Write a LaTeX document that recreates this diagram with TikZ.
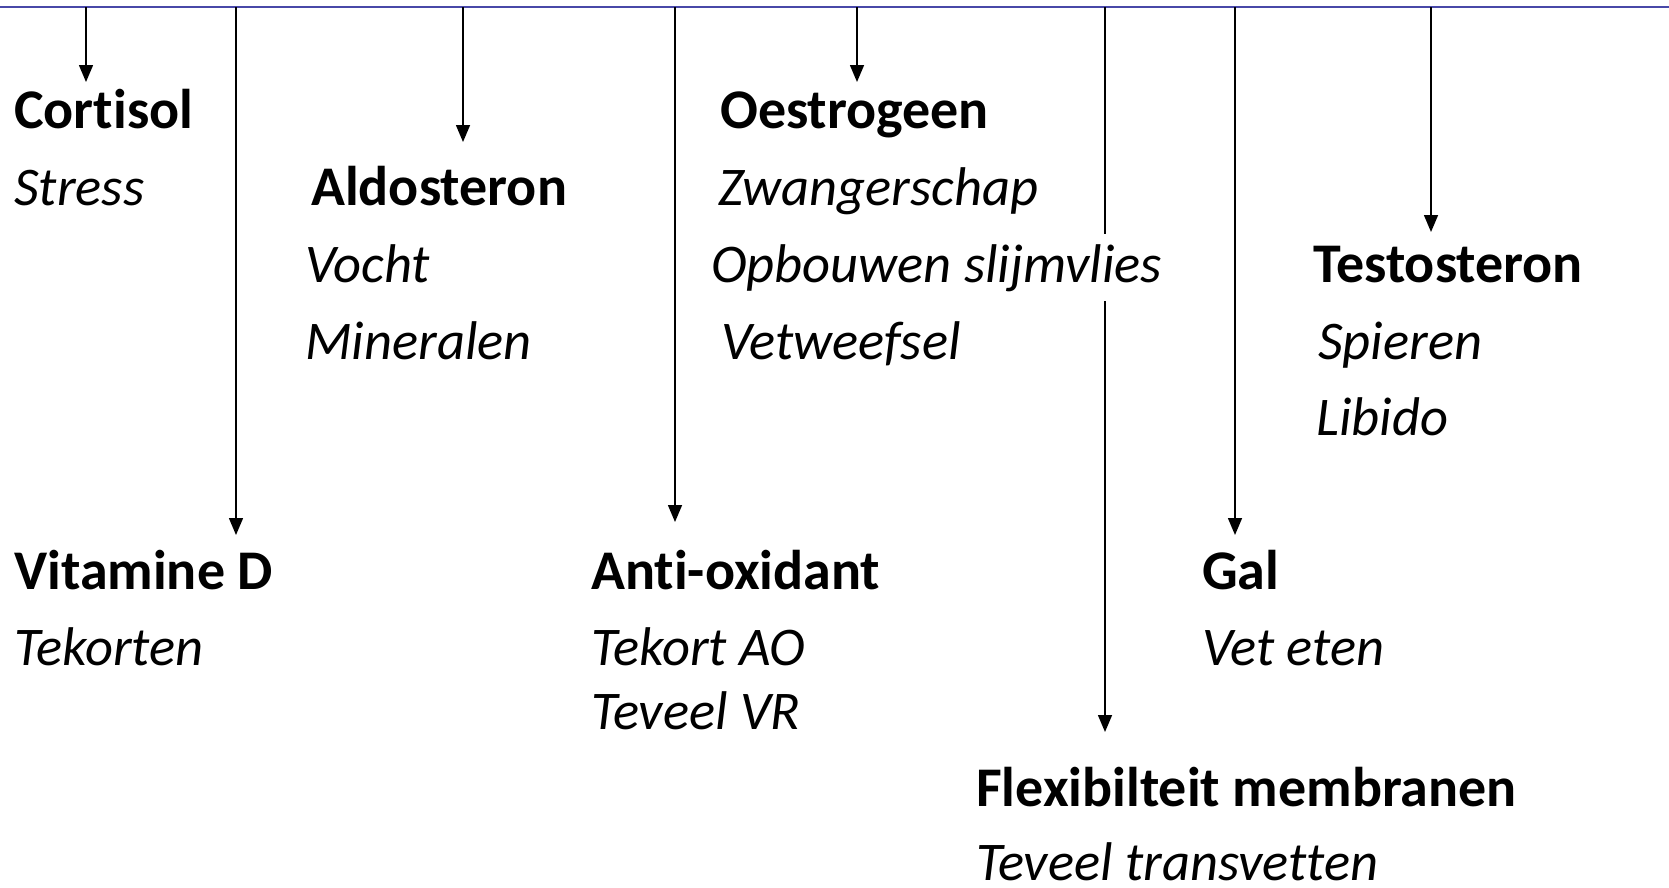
\documentclass[tikz,border=0pt]{standalone}
\usepackage{fontspec}
\setmainfont{Carlito}[Ligatures=NoCommon,RawFeature={-liga;-clig;-calt;-dlig}]
\usetikzlibrary{arrows.meta}
\definecolor{topblue}{RGB}{72,72,168}
\begin{document}
\begin{tikzpicture}[x=1pt,y=-1pt,
  hd/.style={anchor=base west,inner sep=0pt,font=\fontsize{56}{60}\selectfont\bfseries},
  it/.style={anchor=base west,inner sep=0pt,font=\fontsize{54.5}{60}\selectfont\itshape},
  arr/.style={-{Triangle[length=17pt,width=14pt]},line width=1.5pt,black}]
\useasboundingbox (0,0) rectangle (1669,887);
\fill[white] (0,0) rectangle (1669,887);
\coordinate (L) at (0,7);
\coordinate (R) at (1669,7);
\draw[topblue,line width=2.8pt] (L) -- (R);
% arrow start and end points
\coordinate (t1) at (86,7);   \coordinate (e1) at (86,82);
\coordinate (t2) at (236,7);  \coordinate (e2) at (236,535);
\coordinate (t3) at (463,7);  \coordinate (e3) at (463,142);
\coordinate (t4) at (675,7);  \coordinate (e4) at (675,522);
\coordinate (t5) at (857,7);  \coordinate (e5) at (857,82);
\coordinate (t6) at (1105,7); \coordinate (e6) at (1105,732);
\coordinate (t7) at (1235,7); \coordinate (e7) at (1235,535);
\coordinate (t8) at (1431,7); \coordinate (e8) at (1431,232);
\draw[arr] (t1) -- (e1);
\draw[arr] (t2) -- (e2);
\draw[arr] (t3) -- (e3);
\draw[arr] (t4) -- (e4);
\draw[arr] (t5) -- (e5);
\draw[arr] (t6) -- (e6);
\draw[arr] (t7) -- (e7);
\draw[arr] (t8) -- (e8);
% texts
\node[hd] (cort) at (14,128) {Cortisol};
\node[it] (stress) at (14,205) {Stress};
\node[hd] (aldo) at (311,205) {Aldosteron};
\node[it] (vocht) at (305,282) {Vocht};
\node[it] (miner) at (305,359) {Mineralen};
\node[hd] (oestr) at (720,128) {Oestrogeen};
\node[it] (zwang) at (718,205) {Zwangerschap};
\node[it,fill=white,inner xsep=2pt,inner ysep=10pt] (opb) at (709,282) {Opbouwen slijmvlies};
\node[it] (vetw) at (721,359) {Vetweefsel};
\node[hd] (testo) at (1313,282) {Testosteron};
\node[it] (spier) at (1318,359) {Spieren};
\node[it] (libido) at (1316,435) {Libido};
\node[hd] (vitd) at (14,589) {Vitamine D};
\node[it] (tekorten) at (14,665) {Tekorten};
\node[hd] (anti) at (591,589) {Anti-oxidant};
\node[it] (tekao) at (591,665) {Tekort AO};
\node[it] (tevvr) at (591,729) {Teveel VR};
\node[hd] (gal) at (1202,589) {Gal};
\node[it] (veteten) at (1202,665) {Vet eten};
\node[hd] (flex) at (976,806) {Flexibilteit membranen};
\node[it] (trans) at (976,880) {Teveel transvetten};
\end{tikzpicture}
\end{document}
